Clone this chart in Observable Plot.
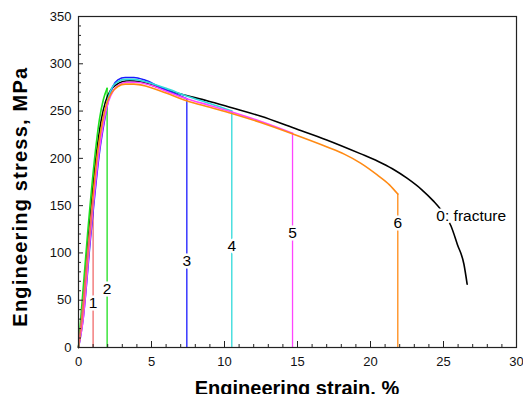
<!DOCTYPE html>
<html><head><meta charset="utf-8">
<script src="https://cdn.jsdelivr.net/npm/d3@7"></script>
<script src="https://cdn.jsdelivr.net/npm/@observablehq/plot@0.6"></script>
<style>body{margin:0;background:#fff} svg{display:block}</style>
</head><body><div id="chart"></div>
<script>
// Curve 0: to fracture (black)
const strain0 = [0, 0.2, 0.7, 1.25, 1.55, 1.85, 2.2, 2.6, 3.0, 3.5, 4.2, 5.5, 7.0, 8.8, 10.5, 12.5, 14.75, 17.0, 19.3, 20.5, 21.5, 22.5, 23.5, 24.3, 25.0, 25.5, 25.95, 26.4, 26.62];
const stress0 = [0, 28, 120, 208, 240, 260, 272, 278, 281, 282, 281, 275, 268, 261, 253.5, 244.5, 232, 219.5, 205, 197, 189, 179, 167, 155, 142, 129, 109, 88, 67];
// Curve 1 (red)
const strain1 = [0, 0.2, 0.76, 1.0];
const stress1 = [0, 28, 120, 155];
// Curve 2 (green)
const strain2 = [0, 0.14, 0.62, 1.16, 1.42, 1.7, 1.96];
const stress2 = [0, 28, 120, 208, 240, 262, 274];
// Curve 3 (blue)
const strain3 = [0, 0.3, 0.85, 1.45, 1.78, 2.05, 2.35, 2.7, 3.2, 3.8, 4.5, 5.5, 6.5, 7.42];
const stress3 = [0, 28, 120, 208, 240, 262, 276, 283, 285.5, 285.5, 283, 276, 269, 263];
// Curve 4 (cyan)
const strain4 = [0, 0.25, 0.8, 1.38, 1.7, 2.0, 2.3, 2.7, 3.2, 3.8, 4.6, 6.0, 7.4, 9.0, 10.5];
const stress4 = [0, 28, 120, 208, 240, 262, 275, 281, 283.5, 283.5, 281, 274, 266, 258, 250];
// Curve 5 (magenta)
const strain5 = [0, 0.3, 0.82, 1.42, 1.75, 2.05, 2.4, 2.8, 3.3, 3.9, 4.8, 6.0, 7.4, 9.0, 10.5, 12.5, 14.66];
const stress5 = [0, 28, 120, 208, 240, 260, 272, 278, 280.5, 280.5, 278, 271, 263, 256, 249, 239, 226.6];
// Curve 6 (orange)
const strain6 = [0, 0.22, 0.75, 1.32, 1.65, 1.95, 2.3, 2.7, 3.2, 3.8, 4.7, 6.0, 7.4, 9.0, 10.5, 12.47, 14.64, 17.03, 18.2, 19.32, 20.46, 21.3, 21.87];
const stress6 = [0, 28, 120, 208, 240, 259, 270, 276, 278.5, 278.5, 276, 269, 261, 254, 247.5, 237.9, 226, 212, 204.5, 195, 182.5, 172, 162.2];

const seriesIds = ["0", "3", "4", "5", "6", "2", "1"];
const seriesColors = {"0": "#000000", "1": "#f06a6a", "2": "#1ee01e", "3": "#1a1aff", "4": "#30dada", "5": "#ff44ff", "6": "#ff8a14"};
const strains = {"0": strain0, "1": strain1, "2": strain2, "3": strain3, "4": strain4, "5": strain5, "6": strain6};
const stresses = {"0": stress0, "1": stress1, "2": stress2, "3": stress3, "4": stress4, "5": stress5, "6": stress6};
const interruptedIds = ["1", "2", "3", "4", "5", "6"];

const labelText = ["1", "2", "3", "4", "5", "6", "0: fracture"];
const labelX = [1.0, 1.96, 7.42, 10.5, 14.66, 21.87, 26.9];
const labelY = [46.7, 61.6, 91.6, 106.8, 120.9, 131.5, 139];

const xMajor = [0, 5, 10, 15, 20, 25, 30];
const xMinor = d3.range(0, 31).filter(v => v % 5 !== 0);
const yMajor = [0, 50, 100, 150, 200, 250, 300, 350];
const yMinor = d3.range(0, 351, 10).filter(v => v % 50 !== 0);

const font = "'Liberation Sans', Arial, Helvetica, sans-serif";

const lineMarks = seriesIds.map(id => {
  const rows = strains[id].map((s, i) => ({strain: s, stress: stresses[id][i]}));
  return Plot.line(rows, {x: "strain", y: "stress", stroke: seriesColors[id], strokeWidth: 1.6, curve: "monotone-x"});
});
const drops = interruptedIds.map(id => ({id, strain: strains[id][strains[id].length - 1], stress: stresses[id][stresses[id].length - 1]}));
const labels = labelText.map((t, i) => ({t, x: labelX[i], y: labelY[i]}));

const chart = Plot.plot({
  width: 523, height: 394,
  marginLeft: 78, marginRight: 7, marginTop: 16, marginBottom: 47,
  style: {fontFamily: font, background: "#fff", overflow: "visible"},
  x: {domain: [0, 30]},
  y: {domain: [0, 350]},
  marks: [
    Plot.ruleX(drops, {x: "strain", y1: 0, y2: "stress", stroke: d => seriesColors[d.id], strokeWidth: 1.3}),
    ...lineMarks,
    Plot.text(labels, {x: "x", y: "y", text: "t", fill: "#000", stroke: "#fff", strokeWidth: 5, fontSize: 15.5, fontFamily: font}),
    Plot.axisX({ticks: xMajor, tickSize: 6, dy: -6, tickFormat: () => "", stroke: "#222"}),
    Plot.axisX({ticks: xMinor, tickSize: 3, dy: -3, tickFormat: () => "", stroke: "#222"}),
    Plot.axisX({ticks: xMajor, tickSize: 0, tickPadding: 9, fontSize: 13, fill: "#111", tickFormat: d => String(d)}),
    Plot.axisY({ticks: yMajor, tickSize: 5, dx: 5, tickFormat: () => "", stroke: "#222"}),
    Plot.axisY({ticks: yMinor, tickSize: 3, dx: 3, tickFormat: () => "", stroke: "#222"}),
    Plot.axisY({ticks: yMajor, tickSize: 0, tickPadding: 7, fontSize: 13, fill: "#111", tickFormat: d => String(d)}),
    Plot.frame({stroke: "#222", strokeWidth: 1.2})
  ]
});

const svg = d3.select(chart);
svg.append("text")
  .attr("x", 297).attr("y", 395)
  .attr("text-anchor", "middle")
  .attr("font-family", font).attr("font-weight", "bold").attr("font-size", 20)
  .attr("fill", "#000")
  .text("Engineering strain, %");
svg.append("text")
  .attr("transform", "translate(27.3,196.7) rotate(-90)")
  .attr("text-anchor", "middle")
  .attr("font-family", font).attr("font-weight", "bold").attr("font-size", 20)
  .attr("letter-spacing", 1.2)
  .attr("fill", "#000")
  .text("Engineering stress, MPa");

document.getElementById("chart").appendChild(chart);
</script>
</body></html>
